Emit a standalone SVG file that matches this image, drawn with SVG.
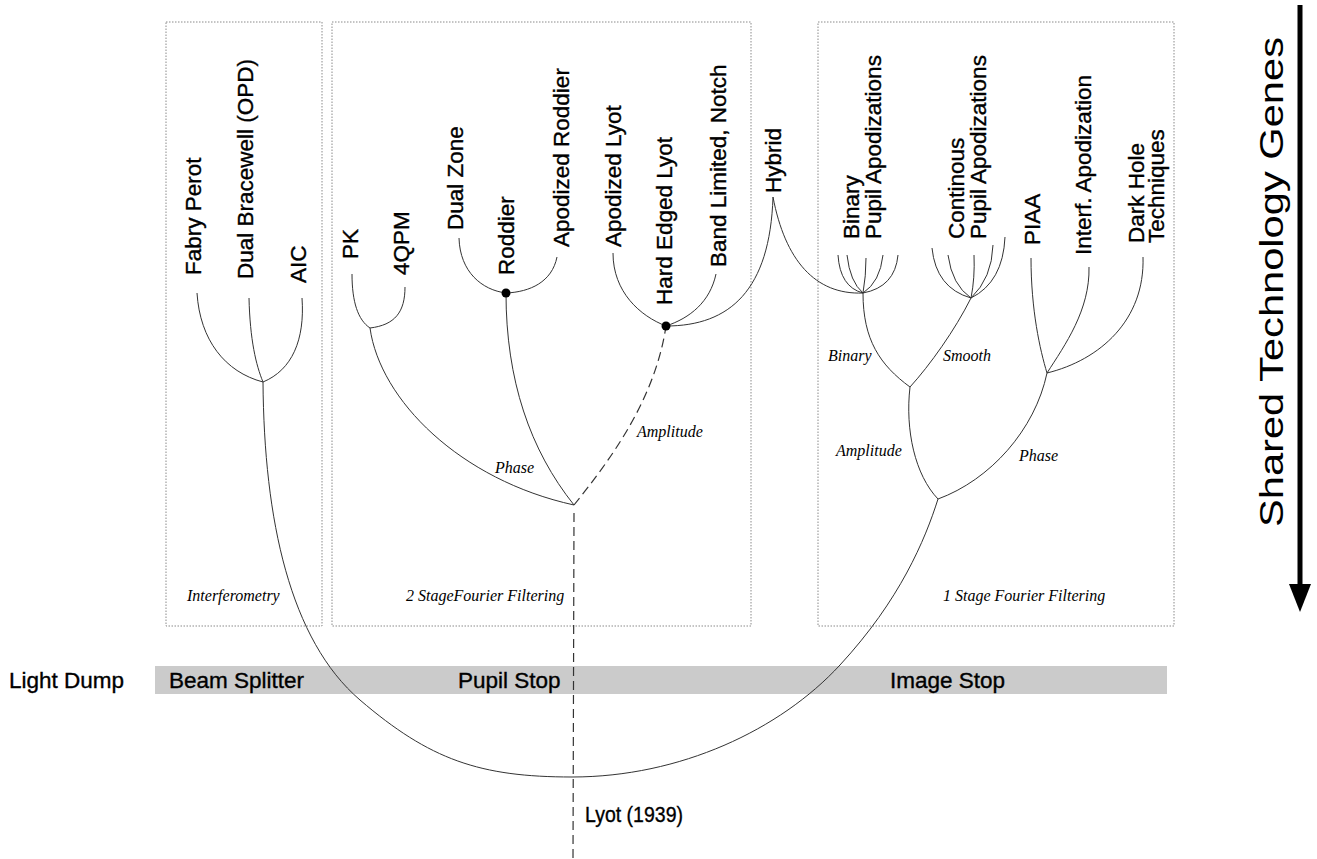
<svg xmlns="http://www.w3.org/2000/svg" width="1317" height="859" viewBox="0 0 1317 859">
<style>
.box{fill:none;stroke:#8a8a8a;stroke-width:1;stroke-dasharray:1.5,1.5}
.ln{fill:none;stroke:#333;stroke-width:1}
.dash{fill:none;stroke:#333;stroke-width:1.2;stroke-dasharray:9,5}
.lbl{font-family:"Liberation Sans",Arial,sans-serif;font-size:22.5px;fill:#000;stroke:#000;stroke-width:0.35}
.it{font-family:"Liberation Serif","Times New Roman",serif;font-style:italic;font-size:16px;fill:#000}
.band{fill:#cbcbcb}
</style>
<rect width="1317" height="859" fill="#fff"/>

<g id="boxes">
<rect id="box-interf" class="box" x="166" y="22" width="156" height="604"/>
<rect id="box-2stage" class="box" x="332" y="22" width="419" height="604"/>
<rect id="box-1stage" class="box" x="818" y="22" width="356" height="604"/>
<text class="it" x="187" y="601">Interferometry</text>
<text class="it" x="406" y="601">2 StageFourier Filtering</text>
<text class="it" x="943" y="601">1 Stage Fourier Filtering</text>
</g>

<g id="band">
<rect class="band" x="155" y="666" width="1012" height="28"/>
<text class="lbl" x="9" y="688">Light Dump</text>
<text class="lbl" x="169" y="688">Beam Splitter</text>
<text class="lbl" x="458" y="688">Pupil Stop</text>
<text class="lbl" x="890" y="688">Image Stop</text>
</g>

<g id="connectors">
<path class="ln" d="M263,382 C264,520 290,640 360,700 S480,777 572,777 C680,777 780,730 840,665 S925,540 938,499"/>
<path class="ln" d="M197,293 C200,340 225,372 263,382"/>
<path class="ln" d="M249,298 C250,340 256,365 263,382"/>
<path class="ln" d="M302,298 C305,340 292,370 263,382"/>
<path class="ln" d="M352,274 C352,302 358,320 370,328"/>
<path class="ln" d="M405,287 C405,312 395,325 370,328"/>
<path class="ln" d="M370,328 C380,400 460,480 574,505"/>
<path class="ln" d="M459,238 C460,272 482,290 506,293"/>
<path class="ln" d="M557,257 C552,282 530,292 506,293"/>
<path class="ln" d="M506,293 C506,380 530,450 574,505"/>
<path class="ln" d="M613,253 C613,292 640,316 666,326"/>
<path class="ln" d="M716,274 C710,302 690,318 666,326"/>
<path class="ln" d="M666,326 C730,326 770,290 773,197"/>
<path class="ln" d="M773,197 C785,260 815,295 863,293"/>
<path class="dash" d="M574,505 C610,460 655,400 666,326"/>
<path class="dash" d="M574,513 L573,859"/>
<path class="ln" d="M838,255 Q840,287 863,293"/>
<path class="ln" d="M847,255 Q850,282 863,293"/>
<path class="ln" d="M866,258 Q866,276 863,293"/>
<path class="ln" d="M883,255 Q880,282 863,293"/>
<path class="ln" d="M898,255 Q895,287 863,293"/>
<path class="ln" d="M932,248 Q936,288 971,298"/>
<path class="ln" d="M948,255 Q952,285 971,298"/>
<path class="ln" d="M974,255 Q975,278 971,298"/>
<path class="ln" d="M993,245 Q992,278 971,298"/>
<path class="ln" d="M1005,237 Q1003,282 971,298"/>
<path class="ln" d="M863,293 C863,340 880,365 910,387"/>
<path class="ln" d="M971,298 C955,330 930,365 910,387"/>
<path class="ln" d="M910,387 C905,430 915,475 938,499"/>
<path class="ln" d="M1047,373 C1035,430 990,480 938,499"/>
<path class="ln" d="M1031,258 C1031,310 1040,350 1047,373"/>
<path class="ln" d="M1089,267 C1090,310 1065,345 1047,373"/>
<path class="ln" d="M1143,257 C1145,320 1100,360 1047,373"/>
<text class="it" x="495" y="473">Phase</text>
<text class="it" x="637" y="437">Amplitude</text>
<text class="it" x="828" y="361">Binary</text>
<text class="it" x="943" y="361">Smooth</text>
<text class="it" x="836" y="456">Amplitude</text>
<text class="it" x="1019" y="461">Phase</text>
</g>

<g id="dots">
<circle cx="506" cy="293" r="4.5" fill="#000"/>
<circle cx="666" cy="326" r="4.5" fill="#000"/>
</g>

<g id="n-fabry"><text class="lbl" transform="translate(201,275) rotate(-90)">Fabry Perot</text></g>
<g id="n-bracewell"><text class="lbl" transform="translate(253,279) rotate(-90)">Dual Bracewell (OPD)</text></g>
<g id="n-aic"><text class="lbl" transform="translate(306,283) rotate(-90)">AIC</text></g>
<g id="n-pk"><text class="lbl" transform="translate(358,259) rotate(-90)">PK</text></g>
<g id="n-4qpm"><text class="lbl" transform="translate(409,275) rotate(-90)">4QPM</text></g>
<g id="n-dualzone"><text class="lbl" transform="translate(463,230) rotate(-90)">Dual Zone</text></g>
<g id="n-roddier"><text class="lbl" transform="translate(514,275) rotate(-90)">Roddier</text></g>
<g id="n-aproddier"><text class="lbl" transform="translate(569,247) rotate(-90)">Apodized Roddier</text></g>
<g id="n-aplyot"><text class="lbl" transform="translate(621,247) rotate(-90)">Apodized Lyot</text></g>
<g id="n-hardlyot"><text class="lbl" transform="translate(672,305) rotate(-90)">Hard Edged Lyot</text></g>
<g id="n-bandlim"><text class="lbl" transform="translate(726,267) rotate(-90)">Band Limited, Notch</text></g>
<g id="n-hybrid"><text class="lbl" transform="translate(781,193) rotate(-90)">Hybrid</text></g>
<g id="n-binary"><text class="lbl" transform="translate(859,239) rotate(-90)">Binary</text><text class="lbl" transform="translate(881,239) rotate(-90)">Pupil Apodizations</text></g>
<g id="n-cont"><text class="lbl" transform="translate(964,239) rotate(-90)">Continous</text><text class="lbl" transform="translate(986,239) rotate(-90)">Pupil Apodizations</text></g>
<g id="n-piaa"><text class="lbl" transform="translate(1040,245) rotate(-90)">PIAA</text></g>
<g id="n-interf"><text class="lbl" transform="translate(1091,255) rotate(-90)">Interf. Apodization</text></g>
<g id="n-darkhole"><text class="lbl" transform="translate(1144,243) rotate(-90)">Dark Hole</text><text class="lbl" transform="translate(1164,243) rotate(-90)">Techniques</text></g>
<g id="n-lyot"><text class="lbl" x="585" y="822" textLength="98" lengthAdjust="spacingAndGlyphs">Lyot (1939)</text></g>

<g id="genes-arrow">
<line x1="1300" y1="5" x2="1300" y2="590" stroke="#000" stroke-width="5"/>
<polygon points="1289,584 1311,584 1300,612" fill="#000"/>
<text transform="translate(1283,527) rotate(-90)" style="font-family:'Liberation Sans',Arial,sans-serif;font-size:34px" textLength="490" lengthAdjust="spacingAndGlyphs">Shared Technology Genes</text>
</g>
</svg>
